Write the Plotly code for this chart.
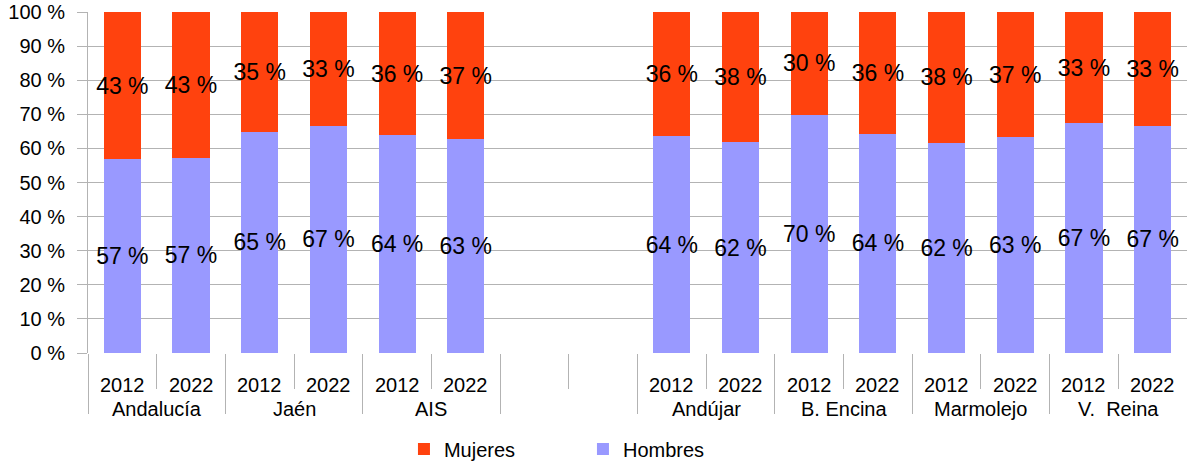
import plotly.graph_objects as go

# ---- data ----
groups = ["Andalucía", "Jaén", "AIS", "", "Andújar", "B. Encina", "Marmolejo", "V.  Reina"]
hombres = [56.8, 57.3, 64.9, 66.7, 63.8, 62.7, None, None,
           63.6, 61.8, 69.9, 64.3, 61.6, 63.3, 67.4, 66.6]
mujeres = [43.2, 42.7, 35.1, 33.3, 36.2, 37.3, None, None,
           36.4, 38.2, 30.1, 35.7, 38.4, 36.7, 32.6, 33.4]
year_labels = ["2012", "2022", "2012", "2022", "2012", "2022", "", "",
               "2012", "2022", "2012", "2022", "2012", "2022", "2012", "2022"]
y_ticks = [0, 10, 20, 30, 40, 50, 60, 70, 80, 90, 100]
y_ticktext = [f"{v} %" for v in y_ticks]

FONT = "Liberation Sans"
GRID = "#b3b3b3"
n = len(hombres)
xs = list(range(n))

fig = go.Figure()
fig.add_trace(go.Bar(
    x=xs, y=hombres, name="Hombres", marker=dict(color="#9999ff", line=dict(width=0)),
    width=0.54, texttemplate="%{y:.0f} %", textposition="inside", insidetextanchor="middle",
    constraintext="none", textangle=0, textfont=dict(family=FONT, size=23, color="black"),
    hoverinfo="skip"))
fig.add_trace(go.Bar(
    x=xs, y=mujeres, name="Mujeres", marker=dict(color="#ff420e", line=dict(width=0)),
    width=0.54, texttemplate="%{y:.0f} %", textposition="inside", insidetextanchor="middle",
    constraintext="none", textangle=0, textfont=dict(family=FONT, size=23, color="black"),
    hoverinfo="skip"))

# category labels
for i, lab in enumerate(year_labels):
    if lab:
        fig.add_annotation(x=i, xref="x", y=0, yref="paper", yanchor="middle", yshift=-32,
                           text=lab, showarrow=False, font=dict(family=FONT, size=20, color="black"))
for g, name in enumerate(groups):
    if name:
        fig.add_annotation(x=2 * g + 0.5, xref="x", y=0, yref="paper", yanchor="middle", yshift=-56,
                           text=name, showarrow=False, font=dict(family=FONT, size=20, color="black"))

major = [2 * g - 0.5 for g in range(len(groups))]
minor = [2 * g + 0.5 for g in range(len(groups))]

fig.update_layout(
    width=1187, height=463,
    margin=dict(l=88, r=0, t=12, b=110, autoexpand=False),
    barmode="stack",
    paper_bgcolor="white", plot_bgcolor="white",
    font=dict(family=FONT, size=20, color="black"),
    xaxis=dict(range=[-0.5, n - 0.5], showgrid=False, zeroline=False, showticklabels=False,
               tickmode="array", tickvals=major, ticks="outside", ticklen=60, tickcolor=GRID, tickwidth=1,
               minor=dict(tickmode="array", tickvals=minor, ticks="outside", ticklen=35,
                          tickcolor=GRID, tickwidth=1, showgrid=False),
               showline=False, fixedrange=True, automargin=False),
    yaxis=dict(range=[0, 100], tickmode="array", tickvals=y_ticks, ticktext=y_ticktext,
               showgrid=True, gridcolor=GRID, gridwidth=1, zeroline=False,
               showline=True, linecolor=GRID, linewidth=1,
               ticks="outside", ticklen=10, tickcolor=GRID, ticklabelstandoff=8,
               tickfont=dict(family=FONT, size=20, color="black"), fixedrange=True, automargin=False),
    legend=dict(orientation="h", traceorder="reversed", x=0.2875, xanchor="left",
                y=-0.2815, yanchor="middle", entrywidth=134, entrywidthmode="pixels",
                font=dict(family=FONT, size=20, color="black")),
    showlegend=True,
)

fig.write_html("out.html", config={"displayModeBar": False},
               post_script="document.body.style.margin='0';document.body.style.overflow='hidden';")
